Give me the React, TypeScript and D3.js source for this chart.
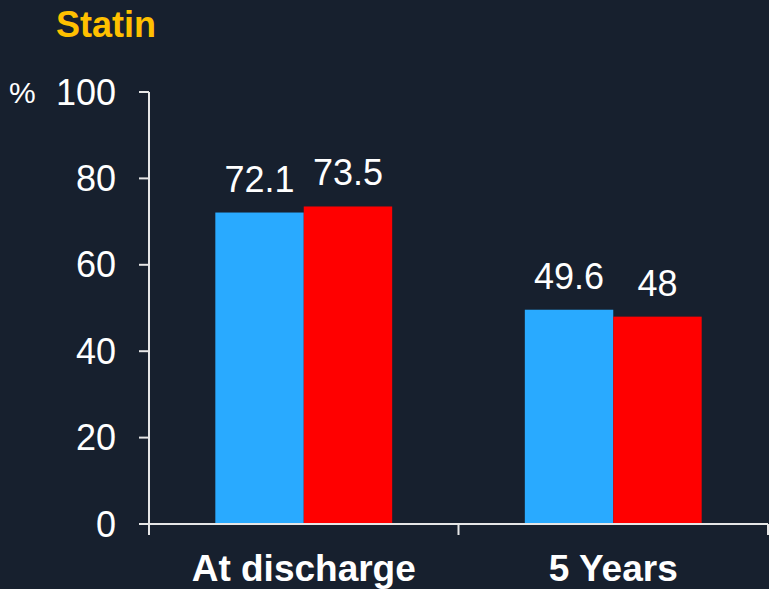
import { useEffect, useRef } from "react";
import * as d3 from "d3";

const categories = ["At discharge", "5 Years"];
const seriesNames = ["Group A", "Group B"];
const seriesA = [72.1, 49.6];
const seriesB = [73.5, 48];
const yTicks = [0, 20, 40, 60, 80, 100];
const colors = ["#29aaff", "#ff0000"];

export default function App() {
  const svgRef = useRef<SVGSVGElement | null>(null);

  useEffect(() => {
    if (!svgRef.current) return;
    const svg = d3.select(svgRef.current);
    svg.selectAll("*").remove();
    const width = 769;
    const height = 589;
    const left = 149;
    const right = 768;
    const top = 92;
    const bottom = 524;
    const axisColor = "#e6e6e6";
    const font = "'Liberation Sans', Arial, sans-serif";

    svg.append("rect").attr("width", width).attr("height", height).attr("fill", "#17202e");

    const x = d3.scaleBand().domain(categories).range([left, right]).paddingInner(0).paddingOuter(0);
    const x1 = d3
      .scaleBand()
      .domain(seriesNames)
      .range([0, x.bandwidth()])
      .paddingOuter(0.75)
      .paddingInner(0);
    const y = d3.scaleLinear().domain([0, 100]).range([bottom, top]);

    // title
    svg
      .append("text")
      .attr("x", 56)
      .attr("y", 37)
      .attr("fill", "#ffc000")
      .attr("font-family", font)
      .attr("font-weight", "bold")
      .attr("font-size", 36)
      .text("Statin");

    // bars
    const rows = categories.map((c, i) => ({ cat: c, vals: [seriesA[i], seriesB[i]] }));
    const g = svg.append("g");
    rows.forEach((r) => {
      r.vals.forEach((v, j) => {
        const bx = x(r.cat)! + x1(seriesNames[j])!;
        g.append("rect")
          .attr("x", bx)
          .attr("y", y(v))
          .attr("width", x1.bandwidth())
          .attr("height", bottom - y(v))
          .attr("fill", colors[j]);
        g.append("text")
          .attr("x", bx + x1.bandwidth() / 2)
          .attr("y", y(v) - 21)
          .attr("text-anchor", "middle")
          .attr("fill", "#ffffff")
          .attr("font-family", font)
          .attr("font-size", 36)
          .text(String(v));
      });
    });

    // y axis
    svg
      .append("line")
      .attr("x1", left)
      .attr("x2", left)
      .attr("y1", top)
      .attr("y2", bottom)
      .attr("stroke", axisColor)
      .attr("stroke-width", 2);
    yTicks.forEach((t) => {
      svg
        .append("line")
        .attr("x1", left - 10)
        .attr("x2", left)
        .attr("y1", y(t))
        .attr("y2", y(t))
        .attr("stroke", axisColor)
        .attr("stroke-width", 2);
      svg
        .append("text")
        .attr("x", 116)
        .attr("y", y(t))
        .attr("dy", "0.35em")
        .attr("text-anchor", "end")
        .attr("fill", "#ffffff")
        .attr("font-family", font)
        .attr("font-size", 36)
        .text(String(t));
    });
    svg
      .append("text")
      .attr("x", 9)
      .attr("y", y(100))
      .attr("dy", "0.35em")
      .attr("fill", "#ffffff")
      .attr("font-family", font)
      .attr("font-size", 30)
      .text("%");

    // x axis
    svg
      .append("line")
      .attr("x1", left - 10)
      .attr("x2", right)
      .attr("y1", bottom)
      .attr("y2", bottom)
      .attr("stroke", axisColor)
      .attr("stroke-width", 2);
    const edges = [left, ...categories.map((c) => x(c)! + x.bandwidth())];
    edges.forEach((ex) => {
      svg
        .append("line")
        .attr("x1", ex)
        .attr("x2", ex)
        .attr("y1", bottom)
        .attr("y2", bottom + 11)
        .attr("stroke", axisColor)
        .attr("stroke-width", 2);
    });
    categories.forEach((c) => {
      svg
        .append("text")
        .attr("x", x(c)! + x.bandwidth() / 2)
        .attr("y", 581)
        .attr("text-anchor", "middle")
        .attr("fill", "#ffffff")
        .attr("font-family", font)
        .attr("font-weight", "bold")
        .attr("font-size", 37)
        .text(c);
    });
  }, []);

  return (
    <svg
      ref={svgRef}
      width={769}
      height={589}
      style={{ position: "absolute", left: 0, top: 0 }}
    />
  );
}
